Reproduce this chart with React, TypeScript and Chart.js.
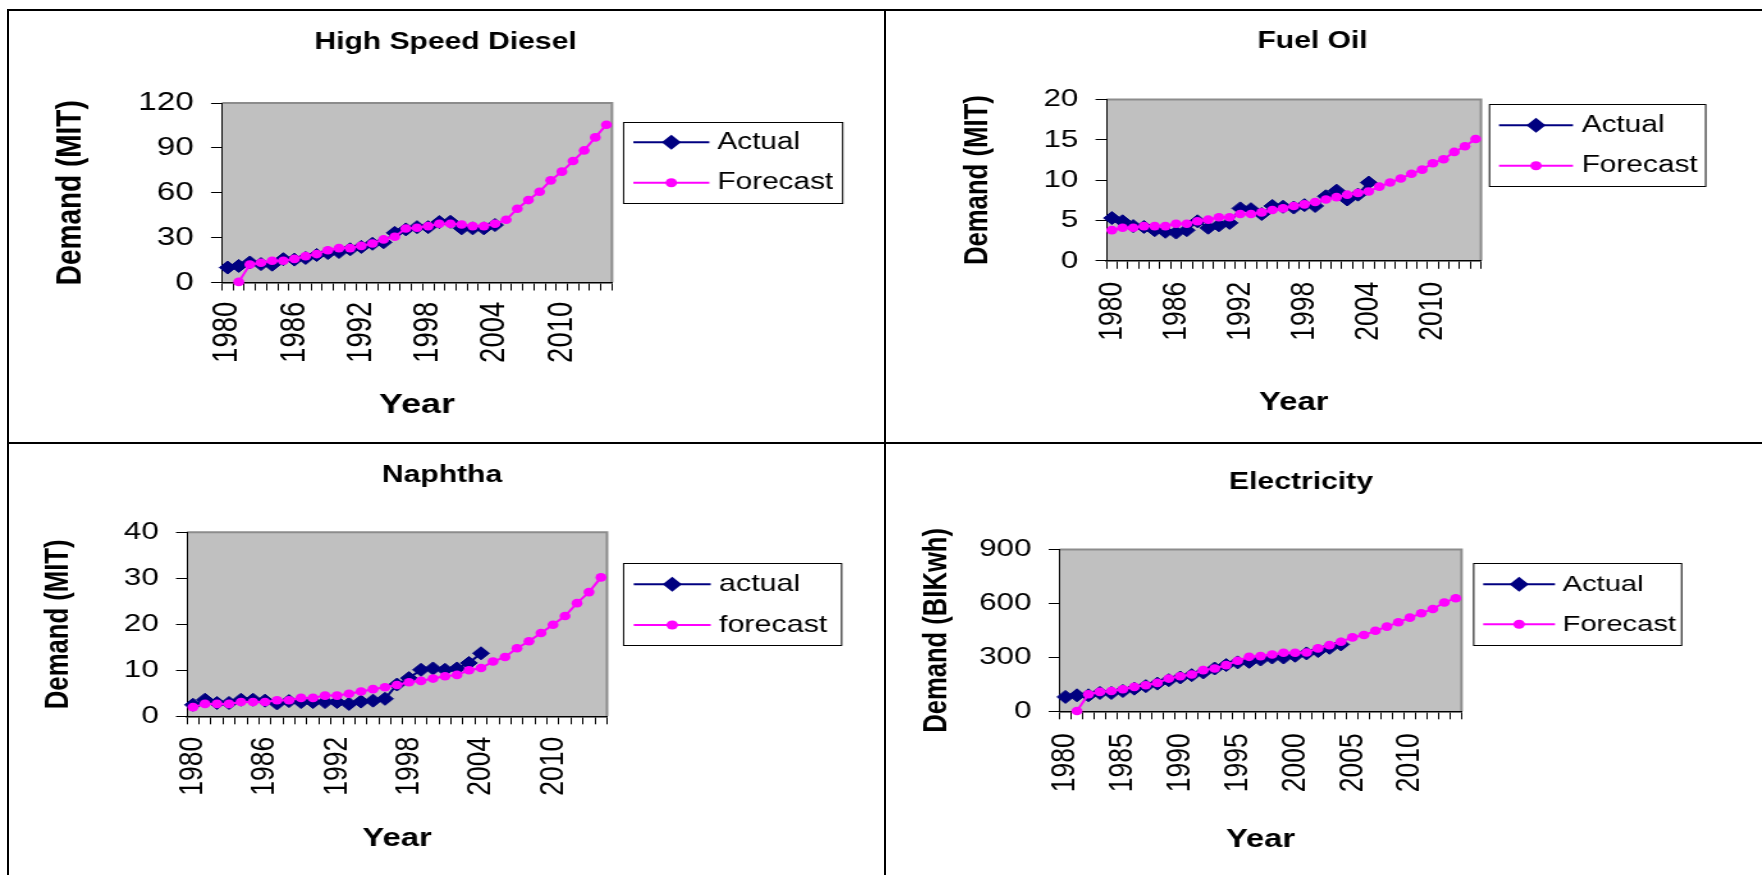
import React, { useEffect, useRef } from 'react';
import { Chart, registerables } from 'chart.js';

Chart.register(...registerables);

const FONT = '"Liberation Sans", Arial, Helvetica, sans-serif';
Chart.defaults.font.family = FONT;

const NAVY = '#000080';
const MAGENTA = '#FF00FF';
const STRETCH = 1.28;

// ---------- data ----------
const years = [
  '1980', '1981', '1982', '1983', '1984', '1985', '1986', '1987', '1988', '1989',
  '1990', '1991', '1992', '1993', '1994', '1995', '1996', '1997', '1998', '1999',
  '2000', '2001', '2002', '2003', '2004', '2005', '2006', '2007', '2008', '2009',
  '2010', '2011', '2012', '2013', '2014',
];

// High Speed Diesel, Demand (MIT)
const hsdActual = [
  10.0, 11.1, 13.4, 12.3, 11.9, 15.6, 15.3, 16.4, 18.4, 19.7,
  20.4, 22.2, 23.8, 25.9, 26.9, 33.2, 35.5, 37.0, 37.0, 40.4,
  40.6, 36.2, 36.2, 36.2, 38.4,
];
const hsdForecast = [
  null, 0.4, 12.0, 13.2, 14.5, 14.5, 15.8, 17.6, 19.0, 21.6,
  23.0, 23.0, 24.5, 26.1, 28.8, 30.6, 36.1, 36.6, 37.7, 39.3,
  39.3, 38.8, 37.7, 37.7, 39.3, 41.9, 49.3, 55.1, 60.7, 68.3,
  74.1, 81.2, 88.3, 97.0, 105.5,
];
const hsdYTicks = [0, 30, 60, 90, 120];
const hsdSeriesNames = ['Actual', 'Forecast'];

// Fuel Oil, Demand (MIT)
const fuelOilActual = [
  5.3, 4.9, 4.3, 4.2, 3.8, 3.6, 3.5, 3.8, 4.9, 4.1,
  4.4, 4.7, 6.5, 6.4, 5.8, 6.8, 6.7, 6.6, 6.9, 6.8,
  8.0, 8.7, 7.6, 8.2, 9.7,
];
const fuelOilForecast = [
  3.8, 4.1, 4.1, 4.3, 4.3, 4.3, 4.6, 4.6, 4.9, 5.1,
  5.4, 5.4, 5.8, 5.8, 6.0, 6.3, 6.5, 6.8, 7.0, 7.3,
  7.6, 7.9, 8.2, 8.4, 8.6, 9.2, 9.7, 10.2, 10.8, 11.3,
  12.1, 12.6, 13.5, 14.2, 15.1,
];
const fuelOilYTicks = [0, 5, 10, 15, 20];
const fuelOilSeriesNames = ['Actual', 'Forecast'];

// Naphtha, Demand (MIT)
const naphthaActual = [
  2.5, 3.6, 2.9, 2.9, 3.6, 3.6, 3.4, 2.8, 3.3, 3.1,
  3.1, 3.1, 3.1, 2.7, 3.2, 3.4, 3.8, 6.9, 8.3, 10.1,
  10.4, 10.1, 10.4, 11.6, 13.7,
];
const naphthaForecast = [
  2.0, 2.7, 2.7, 2.7, 3.1, 3.1, 3.1, 3.5, 3.5, 4.0,
  4.0, 4.5, 4.5, 4.9, 5.4, 5.9, 6.3, 6.8, 7.4, 7.7,
  8.2, 8.7, 9.0, 10.0, 10.5, 11.9, 12.9, 14.8, 16.3, 18.1,
  19.9, 21.8, 24.6, 27.0, 30.2,
];
const naphthaYTicks = [0, 10, 20, 30, 40];
const naphthaSeriesNames = ['actual', 'forecast'];

// Electricity, Demand (BIKwh)
const electricityActual = [
  80, 89, 89, 102, 102, 113, 126, 140, 154, 173,
  188, 201, 216, 238, 257, 272, 275, 288, 299, 299,
  309, 322, 335, 353, 372,
];
const electricityForecast = [
  null, 2, 95, 108, 113, 123, 136, 145, 158, 182,
  195, 205, 229, 238, 257, 281, 303, 307, 316, 326,
  326, 327, 350, 368, 387, 411, 424, 448, 471, 495,
  521, 545, 569, 605, 629,
];
const electricityYTicks = [0, 300, 600, 900];
const electricitySeriesNames = ['Actual', 'Forecast'];

// ---------- layout (page pixel coordinates) ----------
type Panel = {
  cell: { x: number; y: number; w: number; h: number };
  plot: { l: number; r: number; t: number; b: number };
  title: { text: string; x: number; y: number; size: number };
  yTitle: { text: string; x: number; size: number };
  xTitle: { text: string; y: number; size: number };
  yTickSize: number;
  xTickSize: number;
  xLabelTop: number;
  labelEvery: number;
  yTicks: number[];
  legend: { l: number; t: number; r: number; b: number; lineL: number; lineR: number; textL: number; rows: number[]; size: number };
  names: string[];
  actual: (number | null)[];
  forecast: (number | null)[];
};

const panels: Panel[] = [
  {
    cell: { x: 9, y: 11, w: 875, h: 431 },
    plot: { l: 222, r: 612, t: 103, b: 282.5 },
    title: { text: 'High Speed Diesel', x: 445.5, y: 42.5, size: 23.5 },
    yTitle: { text: 'Demand (MIT)', x: 70.2, size: 28 },
    xTitle: { text: 'Year', y: 405, size: 28 },
    yTickSize: 26, xTickSize: 27.5, xLabelTop: 301.7, labelEvery: 6,
    yTicks: hsdYTicks,
    legend: { l: 623.6, t: 121.7, r: 842.7, b: 203.3, lineL: 633.3, lineR: 709.3, textL: 717.3, rows: [142.3, 182.7], size: 23.3 },
    names: hsdSeriesNames, actual: hsdActual, forecast: hsdForecast,
  },
  {
    cell: { x: 886, y: 11, w: 876, h: 431 },
    plot: { l: 1106.5, r: 1481, t: 99.5, b: 260.8 },
    title: { text: 'Fuel Oil', x: 1312.5, y: 42, size: 23.5 },
    yTitle: { text: 'Demand (MIT)', x: 977.6, size: 25.7 },
    xTitle: { text: 'Year', y: 402.5, size: 25.6 },
    yTickSize: 24.5, xTickSize: 26.5, xLabelTop: 281.7, labelEvery: 6,
    yTicks: fuelOilYTicks,
    legend: { l: 1489.5, t: 103.7, r: 1705.7, b: 186, lineL: 1499, lineR: 1573, textL: 1581.6, rows: [125.3, 165.7], size: 23.3 },
    names: fuelOilSeriesNames, actual: fuelOilActual, forecast: fuelOilForecast,
  },
  {
    cell: { x: 9, y: 444, w: 875, h: 431 },
    plot: { l: 187, r: 607, t: 532.3, b: 716.3 },
    title: { text: 'Naphtha', x: 442, y: 476, size: 23.5 },
    yTitle: { text: 'Demand (MIT)', x: 59, size: 25.7 },
    xTitle: { text: 'Year', y: 839, size: 25.6 },
    yTickSize: 24.5, xTickSize: 26.5, xLabelTop: 736.7, labelEvery: 6,
    yTicks: naphthaYTicks,
    legend: { l: 623.6, t: 563.3, r: 841.6, b: 645, lineL: 633.7, lineR: 710.7, textL: 719, rows: [584.3, 625], size: 23.8 },
    names: naphthaSeriesNames, actual: naphthaActual, forecast: naphthaForecast,
  },
  {
    cell: { x: 886, y: 444, w: 876, h: 431 },
    plot: { l: 1059.7, r: 1461.5, t: 549.5, b: 711.3 },
    title: { text: 'Electricity', x: 1301, y: 483, size: 23.5 },
    yTitle: { text: 'Demand (BIKwh)', x: 937, size: 25.6 },
    xTitle: { text: 'Year', y: 840, size: 25.6 },
    yTickSize: 24.5, xTickSize: 26.5, xLabelTop: 733.3, labelEvery: 5,
    yTicks: electricityYTicks,
    legend: { l: 1473.7, t: 563.3, r: 1681.6, b: 645, lineL: 1483.2, lineR: 1555, textL: 1562.5, rows: [584.3, 624.3], size: 22.8 },
    names: electricitySeriesNames, actual: electricityActual, forecast: electricityForecast,
  },
];

function PanelChart({ p }: { p: Panel }) {
  const ref = useRef<HTMLCanvasElement | null>(null);
  const W = Math.round(p.cell.w / STRETCH);
  const H = p.cell.h;

  useEffect(() => {
    const canvas = ref.current;
    if (!canvas) return;
    const S = p.cell.w / W;
    const ix = (X: number) => (X - p.cell.x) / S;
    const iy = (Y: number) => Y - p.cell.y;

    const yAxisWidth = ix(p.plot.l);
    const padRight = W - ix(p.plot.r);
    const padTop = iy(p.plot.t);
    const xtLH = p.xTitle.size * 1.2;
    const xAxisHeight = p.xTitle.y - p.plot.b + xtLH / 2;
    const padBottom = H - iy(p.plot.b) - xAxisHeight;
    const ytLH = p.yTitle.size * 1.2;
    const yTitlePad = ix(p.yTitle.x) - ytLH / 2;
    const yTickLen = 11 / S;
    const yTickPad = 28.2 / S - yTickLen;
    const xTickLen = 8;
    const xTickPad = p.xLabelTop - p.plot.b - xTickLen;

    const decor = {
      id: 'decor',
      beforeDraw(chart: any) {
        const { ctx, chartArea: a } = chart;
        ctx.save();
        ctx.fillStyle = '#C0C0C0';
        ctx.fillRect(a.left, a.top, a.right - a.left, a.bottom - a.top);
        ctx.strokeStyle = '#8C8C8C';
        ctx.lineWidth = 2;
        ctx.beginPath();
        ctx.moveTo(a.left, a.top);
        ctx.lineTo(a.right, a.top);
        ctx.lineTo(a.right, a.bottom);
        ctx.stroke();
        ctx.restore();
      },
      afterDraw(chart: any) {
        const ctx = chart.ctx as CanvasRenderingContext2D;
        ctx.save();
        // chart title
        ctx.fillStyle = '#000';
        ctx.font = `bold ${p.title.size}px ${FONT}`;
        ctx.textAlign = 'center';
        ctx.textBaseline = 'middle';
        ctx.fillText(p.title.text, ix(p.title.x), iy(p.title.y));
        // legend box
        const L = p.legend;
        const x0 = ix(L.l), x1 = ix(L.r);
        const y0 = Math.round(iy(L.t)) + 0.5, y1 = Math.round(iy(L.b)) + 0.5;
        ctx.strokeStyle = '#000';
        ctx.lineWidth = 1;
        ctx.strokeRect(x0, y0, x1 - x0, y1 - y0);
        chart.data.datasets.forEach((ds: any, i: number) => {
          const y = iy(L.rows[i]);
          const lx0 = ix(L.lineL), lx1 = ix(L.lineR);
          ctx.strokeStyle = ds.borderColor;
          ctx.lineWidth = 2;
          ctx.beginPath();
          ctx.moveTo(lx0, y);
          ctx.lineTo(lx1, y);
          ctx.stroke();
          const cx = (lx0 + lx1) / 2;
          ctx.fillStyle = ds.borderColor;
          ctx.beginPath();
          if (ds.pointStyle === 'rectRot') {
            const r = 7.5;
            ctx.moveTo(cx - r, y);
            ctx.lineTo(cx, y - r);
            ctx.lineTo(cx + r, y);
            ctx.lineTo(cx, y + r);
            ctx.closePath();
          } else {
            ctx.arc(cx, y, 4.5, 0, Math.PI * 2);
          }
          ctx.fill();
          ctx.fillStyle = '#000';
          ctx.font = `${L.size}px ${FONT}`;
          ctx.textAlign = 'left';
          ctx.textBaseline = 'middle';
          ctx.fillText(ds.label, ix(L.textL), y);
        });
        ctx.restore();
      },
    };

    const chart = new Chart(canvas, {
      type: 'line',
      data: {
        labels: years,
        datasets: [
          {
            label: p.names[0],
            data: p.actual,
            borderColor: NAVY,
            backgroundColor: NAVY,
            borderWidth: 2,
            pointStyle: 'rectRot',
            pointRadius: 6.5,
            pointBorderWidth: 1,
            pointBackgroundColor: NAVY,
            pointBorderColor: NAVY,
            tension: 0,
            clip: false,
            order: 1,
          },
          {
            label: p.names[1],
            data: p.forecast,
            borderColor: MAGENTA,
            backgroundColor: MAGENTA,
            borderWidth: 2,
            pointStyle: 'circle',
            pointRadius: 4.3,
            pointBorderWidth: 0,
            pointBackgroundColor: MAGENTA,
            pointBorderColor: MAGENTA,
            tension: 0,
            clip: false,
            order: 0,
          },
        ],
      } as any,
      options: {
        animation: false,
        responsive: false,
        events: [],
        layout: { padding: { left: 0, right: padRight, top: padTop, bottom: padBottom } },
        plugins: {
          legend: { display: false },
          title: { display: false },
          tooltip: { enabled: false },
        },
        scales: {
          x: {
            type: 'category',
            offset: true,
            grid: {
              offset: true,
              drawOnChartArea: false,
              drawTicks: true,
              tickLength: xTickLen,
              color: '#000',
              tickColor: '#000',
              lineWidth: 1,
            },
            border: { color: '#000', width: 1.5 },
            ticks: {
              autoSkip: false,
              minRotation: 90,
              maxRotation: 90,
              padding: xTickPad,
              color: '#000',
              font: { family: FONT, size: p.xTickSize },
              callback: (_v: any, i: number) => (i % p.labelEvery === 0 ? years[i] : ''),
            },
            title: {
              display: true,
              text: p.xTitle.text,
              color: '#000',
              font: { family: FONT, size: p.xTitle.size, weight: 'bold' },
              padding: { top: 0, bottom: 0 },
            },
            afterFit: (s: any) => { s.height = xAxisHeight; },
          },
          y: {
            type: 'linear',
            min: p.yTicks[0],
            max: p.yTicks[p.yTicks.length - 1],
            afterBuildTicks: (s: any) => { s.ticks = p.yTicks.map((v) => ({ value: v })); },
            grid: {
              drawOnChartArea: false,
              drawTicks: true,
              tickLength: yTickLen,
              color: '#000',
              tickColor: '#000',
              lineWidth: 1,
            },
            border: { color: '#000', width: 1 },
            ticks: {
              padding: yTickPad,
              color: '#000',
              font: { family: FONT, size: p.yTickSize },
            },
            title: {
              display: true,
              text: p.yTitle.text,
              color: '#000',
              font: { family: FONT, size: p.yTitle.size, weight: 'bold' },
              padding: { top: yTitlePad, bottom: 0 },
            },
            afterFit: (s: any) => { s.width = yAxisWidth; },
          },
        },
      } as any,
      plugins: [decor],
    });
    return () => chart.destroy();
  }, []);

  return (
    <canvas
      ref={ref}
      width={W}
      height={H}
      style={{ position: 'absolute', left: p.cell.x, top: p.cell.y, width: p.cell.w, height: p.cell.h }}
    />
  );
}

const line = (left: number, top: number, width: number, height: number): React.CSSProperties => ({
  position: 'absolute', left, top, width, height, background: '#000',
});

export default function App() {
  return (
    <div style={{ position: 'absolute', left: 0, top: 0, width: 1762, height: 875, overflow: 'hidden', background: '#fff' }}>
      {panels.map((p, i) => <PanelChart key={i} p={p} />)}
      <div style={line(7, 9, 1755, 2)} />
      <div style={line(7, 9, 2, 866)} />
      <div style={line(884, 9, 2, 866)} />
      <div style={line(7, 442, 1755, 2)} />
    </div>
  );
}
